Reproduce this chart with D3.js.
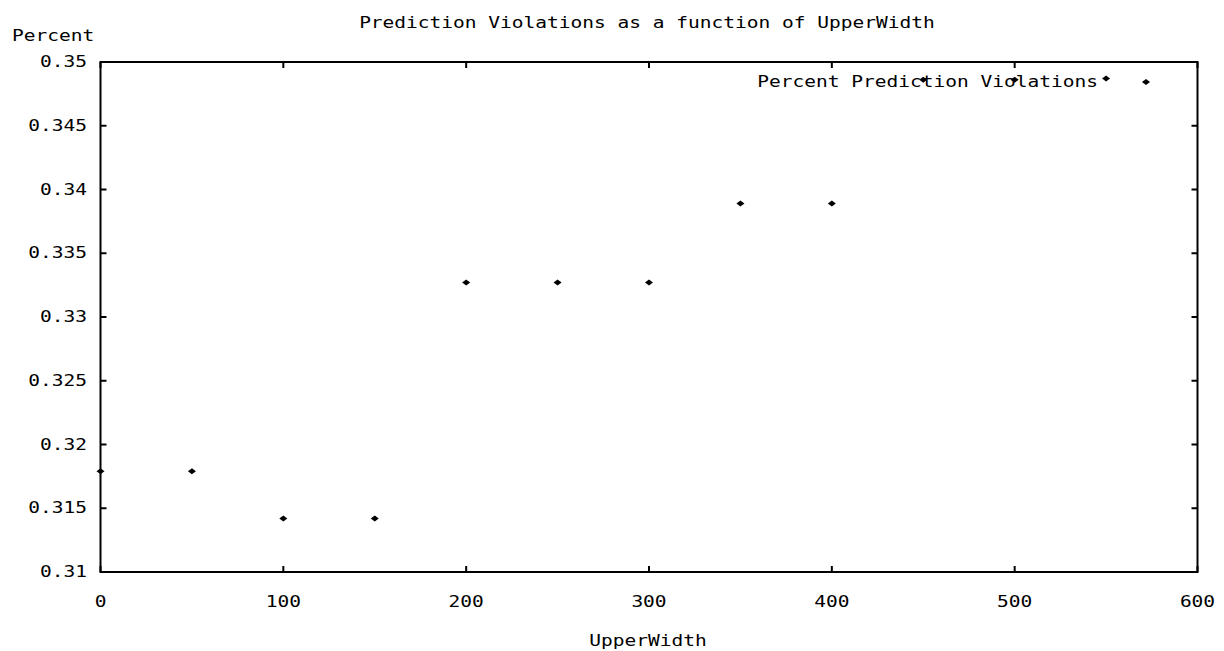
<!DOCTYPE html>
<html><head><meta charset="utf-8">
<script src="https://cdn.jsdelivr.net/npm/d3@7"></script>
<style>body{margin:0;background:#fff}text{font-family:"DejaVu Sans Mono",monospace;font-size:15px;fill:#000}</style>
</head><body><svg id="c" width="1224" height="651"></svg>
<script>
const title = "Prediction Violations as a function of UpperWidth";
const xLabel = "UpperWidth";
const yLabel = "Percent";
const seriesName = "Percent Prediction Violations";
const xValues = [0, 50, 100, 150, 200, 250, 300, 350, 400, 450, 500, 550];
const yValues = [0.3179, 0.3179, 0.3142, 0.3142, 0.3327, 0.3327, 0.3327, 0.3389, 0.3389, 0.3486, 0.3486, 0.3487];
const xTicks = [0, 100, 200, 300, 400, 500, 600];
const yTicks = [0.31, 0.315, 0.32, 0.325, 0.33, 0.335, 0.34, 0.345, 0.35];
const yTickLabels = ["0.31","0.315","0.32","0.325","0.33","0.335","0.34","0.345","0.35"];

const CW = 11.75;
const svg = d3.select("#c");
const L = 100.5, R = 1197.5, T = 62, B = 572;
const x = d3.scaleLinear().domain([0, 600]).range([L, R]);
const y = d3.scaleLinear().domain([0.31, 0.35]).range([B, T]);

function txt(s, xx, yy, anchor) {
  return svg.append("text").attr("x", xx).attr("y", yy).attr("text-anchor", anchor)
    .attr("textLength", s.length * CW).attr("lengthAdjust", "spacingAndGlyphs").text(s);
}

// frame
svg.append("rect").attr("x", L).attr("y", T).attr("width", R - L).attr("height", B - T)
  .attr("fill", "none").attr("stroke", "#000").attr("stroke-width", 2);

// ticks (inward, mirrored)
const tk = 6;
xTicks.forEach(v => {
  svg.append("line").attr("x1", x(v)).attr("x2", x(v)).attr("y1", B).attr("y2", B - tk).attr("stroke", "#000").attr("stroke-width", 2);
  svg.append("line").attr("x1", x(v)).attr("x2", x(v)).attr("y1", T).attr("y2", T + tk).attr("stroke", "#000").attr("stroke-width", 2);
  txt(String(v), x(v), 607, "middle");
});
yTicks.forEach((v, i) => {
  svg.append("line").attr("x1", L).attr("x2", L + tk).attr("y1", y(v)).attr("y2", y(v)).attr("stroke", "#000").attr("stroke-width", 2);
  svg.append("line").attr("x1", R).attr("x2", R - tk).attr("y1", y(v)).attr("y2", y(v)).attr("stroke", "#000").attr("stroke-width", 2);
  txt(yTickLabels[i], 87, y(v) + 5, "end");
});

// labels
txt(title, 647, 28, "middle");
txt(yLabel, 12, 41, "start");
txt(xLabel, 648, 646, "middle");

// points
const marker = "M-4,0L0,-3L4,0L0,3Z";
svg.selectAll("path.pt").data(xValues.map((v, i) => [v, yValues[i]])).enter().append("path")
  .attr("class", "pt").attr("d", marker)
  .attr("transform", d => `translate(${x(d[0])},${y(d[1])})`).attr("fill", "#000");

// legend
txt(seriesName, 1098, 87, "end");
svg.append("path").attr("d", marker).attr("transform", "translate(1146,82)").attr("fill", "#000");
</script></body></html>
